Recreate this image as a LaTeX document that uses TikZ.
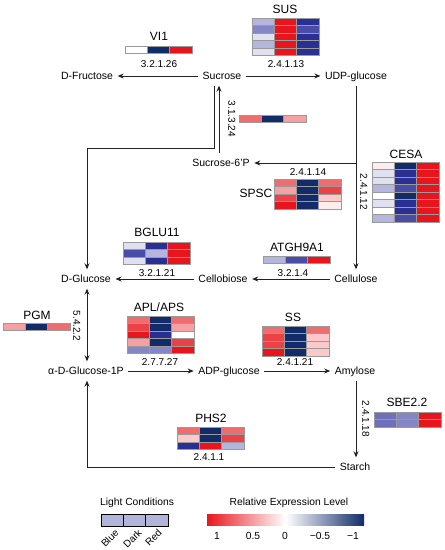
\documentclass[tikz,border=0pt]{standalone}
\usepackage{fontspec}
\setmainfont{Liberation Sans}
\usetikzlibrary{arrows.meta,calc}
\definecolor{cR}{HTML}{E8161C}
\definecolor{cRtwo}{HTML}{EC4246}
\definecolor{cPone}{HTML}{EF6C6F}
\definecolor{cPtwo}{HTML}{F5A0A2}
\definecolor{cPthree}{HTML}{FBC9CA}
\definecolor{cPfour}{HTML}{FDEDED}
\definecolor{cW}{HTML}{FFFFFF}
\definecolor{cN}{HTML}{122C6A}
\definecolor{cB}{HTML}{2A2F94}
\definecolor{cBtwo}{HTML}{4A4DA7}
\definecolor{cLzero}{HTML}{6E71BA}
\definecolor{cLone}{HTML}{8486C5}
\definecolor{cLtwo}{HTML}{B5B6DD}
\definecolor{cLthree}{HTML}{DFE0F0}
\definecolor{gridgray}{HTML}{9A9A9A}
\definecolor{linecol}{HTML}{222222}
\definecolor{legcell}{HTML}{B3B4DC}
\newcommand\hmapdraw[3]{%
  \foreach \ca/\cb/\cc [count=\i from 0] in {#3} {
    \filldraw[fill=\ca, draw=gridgray, line width=0.6pt] (#1,{#2+\i*7.5}) rectangle ++(22.3,7.5);
    \filldraw[fill=\cb, draw=gridgray, line width=0.6pt] ({#1+22.3},{#2+\i*7.5}) rectangle ++(22.3,7.5);
    \filldraw[fill=\cc, draw=gridgray, line width=0.6pt] ({#1+44.6},{#2+\i*7.5}) rectangle ++(22.3,7.5);
  }%
}
\tikzset{
  met/.style={font=\fontsize{10.5}{12}\selectfont, text=black, inner xsep=4.5pt, inner ysep=5.5pt, text height=7.5pt, text depth=0.5pt},
  gene/.style={font=\fontsize{12}{14}\selectfont, text=black, inner sep=0pt, text height=8.6pt, text depth=0pt},
  ecn/.style={font=\fontsize{10}{12}\selectfont, text=black, inner sep=0pt, text height=7.2pt, text depth=0pt},
  legt/.style={font=\fontsize{10.3}{12}\selectfont, text=black, inner sep=0pt, text height=7.3pt, text depth=0pt},
  rotl/.style={font=\fontsize{10}{12}\selectfont, text=black, inner sep=0pt, text height=7.2pt, text depth=0pt, rotate=45, anchor=east},
  conn/.style={draw=linecol, line width=0.8pt, -{Stealth[length=6pt,width=5pt]}},
  both/.style={draw=linecol, line width=0.8pt, {Stealth[length=6pt,width=5pt]}-{Stealth[length=6pt,width=5pt]}},
}
\begin{document}
\begin{tikzpicture}[x=1pt,y=-1pt]
\useasboundingbox (0,0) rectangle (445,550);
\fill[white] (0,0) rectangle (445,550);

% metabolites
\node[met] (fru) at (87,76) {D-Fructose};
\node[met] (suc) at (222,76) {Sucrose};
\node[met] (udp) at (356,76) {UDP-glucose};
\node[met] (s6p) at (221,163) {Sucrose-6'P};
\node[met] (glc) at (86,279) {D-Glucose};
\node[met] (cbi) at (223,279) {Cellobiose};
\node[met] (cel) at (356,279) {Cellulose};
\node[met] (agp) at (86,371) {α-D-Glucose-1P};
\node[met] (adp) at (229,371) {ADP-glucose};
\node[met] (amy) at (355,371) {Amylose};
\node[met] (sta) at (355,467) {Starch};

% connectors
\draw[conn] (suc.west) -- (fru.east);
\draw[conn] (suc.east) -- (udp.west);
\draw[conn] (udp.south) -- (cel.north);
\draw[conn] (udp.south |- s6p.east) -- (s6p.east);
\draw[conn] ([xshift=-2pt]s6p.north) -- ([xshift=-2pt]s6p.north |- suc.south);
\draw[conn] ([xshift=-8pt]suc.south) -- ([xshift=-8pt]suc.south |- 0,148) -| ([xshift=1pt]glc.north);
\draw[conn] (cel.west) -- (cbi.east);
\draw[conn] (cbi.west) -- (glc.east);
\draw[both] ([xshift=1pt]glc.south) -- ([xshift=1pt]agp.north);
\draw[conn] (agp.east) -- (adp.west);
\draw[conn] (adp.east) -- (amy.west);
\draw[conn] ([xshift=1pt]amy.south) -- ([xshift=1pt]sta.north);
\draw[conn] (sta.west) -| ([xshift=1pt]agp.south);

% heatmaps
\hmapdraw{125}{46}{cW/cN/cR}
\hmapdraw{252}{18}{cLtwo/cR/cB, cLone/cR/cBtwo, cLthree/cR/cB, cLtwo/cR/cB, cLthree/cR/cB}
\hmapdraw{239}{115}{cPone/cN/cPtwo}
\hmapdraw{274}{179}{cPone/cN/cPone, cPtwo/cN/cRtwo, cRtwo/cN/cPthree, cR/cN/cPfour}
\hmapdraw{372}{162}{cPfour/cN/cR, cLthree/cB/cR, cLthree/cB/cR, cLtwo/cBtwo/cR, cW/cN/cR, cLthree/cB/cR, cW/cB/cR, cLtwo/cBtwo/cR}
\hmapdraw{123}{242}{cLthree/cB/cR, cBtwo/cLtwo/cR, cLthree/cB/cR}
\hmapdraw{263}{256}{cLtwo/cBtwo/cR}
\hmapdraw{3}{323}{cPtwo/cN/cPone}
\hmapdraw{127}{316}{cPone/cN/cPone, cRtwo/cN/cPtwo, cR/cB/cW, cPtwo/cN/cRtwo, cLone/cLone/cR}
\hmapdraw{262}{326}{cPone/cN/cPone, cRtwo/cN/cPthree, cRtwo/cN/cPthree, cR/cN/cPthree}
\hmapdraw{177}{427}{cPone/cN/cPone, cPthree/cN/cRtwo, cB/cR/cLtwo}
\hmapdraw{374}{412}{cLzero/cLone/cR, cLzero/cLone/cR}

% gene labels
\node[gene] (gvi) at (159,36) {VI1};
\node[gene] (gsus) at (285,9) {SUS};
\node[gene] (gspsc) at (256,193) {SPSC};
\node[gene] (gcesa) at (406,154) {CESA};
\node[gene] (gbglu) at (157,232) {BGLU11};
\node[gene] (gatgh) at (297,247) {ATGH9A1};
\node[gene] (gpgm) at (37,315) {PGM};
\node[gene] (gapl) at (159,307) {APL/APS};
\node[gene] (gss) at (293,317) {SS};
\node[gene] (gsbe) at (407,402) {SBE2.2};
\node[gene] (gphs) at (211,418) {PHS2};

% EC numbers
\node[ecn] (e1) at (159,64) {3.2.1.26};
\node[ecn] (e2) at (286,64) {2.4.1.13};
\node[ecn, rotate=-90] (e3) at (232,119) {3.1.3.24};
\node[ecn] (e4) at (308,172) {2.4.1.14};
\node[ecn, rotate=-90] (e5) at (364,192) {2.4.1.12};
\node[ecn] (e6) at (157,273) {3.2.1.21};
\node[ecn] (e7) at (293,273) {3.2.1.4};
\node[ecn, rotate=-90] (e8) at (77,326) {5.4.2.2};
\node[ecn] (e9) at (160,362) {2.7.7.27};
\node[ecn] (e10) at (295,362) {2.4.1.21};
\node[ecn, rotate=-90] (e11) at (366,419) {2.4.1.18};
\node[ecn] (e12) at (209,457) {2.4.1.1};

% legend: light conditions
\node[legt] (lc) at (137,502) {Light Conditions};
\foreach \k in {0,1,2} {
  \filldraw[fill=legcell, draw=black, line width=0.8pt] ({101+\k*22.3},514) rectangle ++(22.3,12);
}
\node[rotl] (lb) at (117,531) {Blue};
\node[rotl] (ld) at (140,531) {Dark};
\node[rotl] (lr) at (160,531) {Red};

% legend: colour bar
\node[legt] (rel) at (289,502) {Relative Expression Level};
\shade[left color=cR, right color=cN, middle color=white, shading=axis] (207,514) rectangle (364,525);
\node[legt] (t1) at (217,536) {1};
\node[legt] (t2) at (253,536) {0.5};
\node[legt] (t3) at (285,536) {0};
\node[legt] (t4) at (320,536) {−0.5};
\node[legt] (t5) at (353,536) {−1};
\end{tikzpicture}
\end{document}
